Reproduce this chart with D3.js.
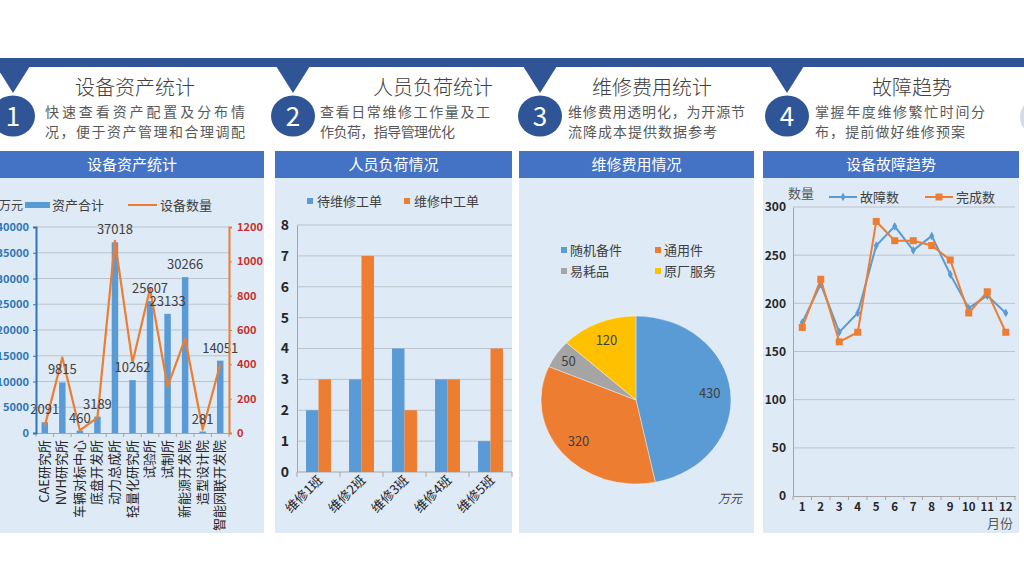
<!DOCTYPE html>
<html><head><meta charset="utf-8">
<script src="https://cdn.jsdelivr.net/npm/d3@7"></script>
<style>
body{margin:0;background:#fff}
svg{display:block}
text{font-family:"Noto Sans CJK SC","Noto Sans",sans-serif}
</style>
</head><body>
<svg id="c" width="1024" height="585"></svg>
<script>
// ---------- data ----------
const stepNumbers = ["1","2","3","4"];
const stepTitles = ["设备资产统计","人员负荷统计","维修费用统计","故障趋势"];
const stepLines1 = ["快速查看资产配置及分布情","查看日常维修工作量及工","维修费用透明化，为开源节","掌握年度维修繁忙时间分"];
const stepLines2 = ["况，便于资产管理和合理调配","作负荷，指导管理优化","流降成本提供数据参考","布，提前做好维修预案"];
const panelTitles = ["设备资产统计","人员负荷情况","维修费用情况","设备故障趋势"];

const assetCats = ["CAE研究所","NVH研究所","车辆对标中心","底盘开发所","动力总成所","轻量化研究所","试验所","试制所","新能源开发院","造型设计院","智能网联开发院"];
const assetValues = [2091,9815,460,3189,37018,10262,25607,23133,30266,281,14051];
const equipCounts = [40,440,15,90,1120,410,840,270,550,20,400];
const assetTicksLeft = [0,5000,10000,15000,20000,25000,30000,35000,40000];
const assetTicksRight = [0,200,400,600,800,1000,1200];

const teams = ["维修1班","维修2班","维修3班","维修4班","维修5班"];
const pendingOrders = [2,3,4,3,1];
const activeOrders = [3,7,2,3,4];
const loadTicks = [0,1,2,3,4,5,6,7,8];

const costCats = ["随机备件","通用件","易耗品","原厂服务"];
const costValues = [430,320,50,120];

const months = [1,2,3,4,5,6,7,8,9,10,11,12];
const faultCounts = [180,220,170,190,260,280,255,270,230,195,208,190];
const doneCounts = [175,225,160,170,285,265,265,260,245,190,212,170];
const faultTicks = [0,50,100,150,200,250,300];

// ---------- styles ----------
const BLUE="#5B9BD5", ORANGE="#ED7D31", GRAY="#A5A5A5", YELLOW="#FFC000";
const DARK="#2F5597", HEAD="#4472C4", BG="#DEEAF6", GRID="#BDC3CA";
const NUMFONT="'Liberation Sans',Arial,sans-serif";

const svg = d3.select("#c");

// ---------- top header ----------
svg.append("rect").attr("x",0).attr("y",58).attr("width",1024).attr("height",9).attr("fill",DARK);
const stepX = [13,293,540,787];
const titleX = [135,433,652,912];
const subX = [45,320,568,815];
const sub1Len = [200,170,177,170];
const sub2Len = [200,135,149,150];
stepX.forEach((cx,i)=>{
  svg.append("path").attr("d",`M${cx-17},66 L${cx+17},66 L${cx},93 Z`).attr("fill",DARK);
  svg.append("ellipse").attr("cx",cx).attr("cy",116).attr("rx",22).attr("ry",20.5).attr("fill",DARK);
  svg.append("text").attr("x",cx).attr("y",125.5).attr("text-anchor","middle").attr("fill","#fff")
    .attr("font-size",26).attr("font-family","'Open Sans',sans-serif").text(stepNumbers[i]);
  svg.append("text").attr("x",titleX[i]).attr("y",95).attr("text-anchor","middle").attr("fill","#404040")
    .attr("font-size",20).attr("font-weight",300).text(stepTitles[i]);
  svg.append("text").attr("x",subX[i]).attr("y",117).attr("fill","#595959").attr("font-size",14)
    .attr("textLength",sub1Len[i]).attr("lengthAdjust","spacing").text(stepLines1[i]);
  svg.append("text").attr("x",subX[i]).attr("y",137).attr("fill","#595959").attr("font-size",14)
    .attr("textLength",sub2Len[i]).attr("lengthAdjust","spacing").text(stepLines2[i]);
});
svg.append("ellipse").attr("cx",1042).attr("cy",117).attr("rx",22).attr("ry",20).attr("fill","#d4dbe6");

// ---------- panels ----------
const panels = [[0,264],[275,512],[519,754],[763,1019]];
panels.forEach(([x0,x1],i)=>{
  svg.append("rect").attr("x",x0).attr("y",151).attr("width",x1-x0).attr("height",382).attr("fill",BG);
  svg.append("rect").attr("x",x0).attr("y",151).attr("width",x1-x0).attr("height",27).attr("fill",HEAD);
  svg.append("text").attr("x",(x0+x1)/2).attr("y",170).attr("text-anchor","middle")
    .attr("fill","#fff").attr("font-size",15).text(panelTitles[i]);
});

function styleAxis(g, color, width){
  g.select(".domain").attr("stroke",color).attr("stroke-width",width||1);
  g.selectAll(".tick line").attr("stroke",color);
}

// ---------- panel 1: assets ----------
{
  const g = svg.append("g");
  const x = d3.scaleBand().domain(assetCats).range([36,229]).paddingInner(0.63).paddingOuter(0.315);
  const yL = d3.scaleLinear().domain([0,40000]).range([433,227]);
  const yR = d3.scaleLinear().domain([0,1200]).range([433,227]);
  g.selectAll(".grid").data(assetTicksLeft.slice(1)).join("line")
    .attr("x1",36).attr("x2",229).attr("y1",d=>yL(d)).attr("y2",d=>yL(d))
    .attr("stroke",GRID).attr("stroke-width",1);
  const xa = g.append("g").attr("transform","translate(0,433)")
    .call(d3.axisBottom(x).tickSize(0).tickFormat(""));
  styleAxis(xa,"#A6A6A6");
  g.selectAll(".xt").data(d3.range(assetCats.length+1)).join("line")
    .attr("x1",d=>36+d*x.step()).attr("x2",d=>36+d*x.step()).attr("y1",433).attr("y2",437).attr("stroke","#A6A6A6");
  g.selectAll(".bar").data(assetValues).join("rect")
    .attr("x",(d,i)=>x(assetCats[i])).attr("width",x.bandwidth())
    .attr("y",d=>yL(d)).attr("height",d=>433-yL(d)).attr("fill",BLUE);
  g.append("path").datum(equipCounts)
    .attr("d",d3.line().x((d,i)=>x(assetCats[i])+x.bandwidth()/2).y(d=>yR(d)))
    .attr("fill","none").attr("stroke",ORANGE).attr("stroke-width",2.2).attr("stroke-linejoin","round");
  g.selectAll(".lbl").data(assetValues).join("text")
    .attr("x",(d,i)=>x(assetCats[i])+x.bandwidth()/2).attr("y",d=>yL(d)-8)
    .attr("text-anchor","middle").attr("font-size",13).attr("fill","#404040")
    .attr("font-family",NUMFONT).text(d=>d);
  const la = g.append("g").attr("transform","translate(36,0)")
    .call(d3.axisLeft(yL).tickValues(assetTicksLeft).tickFormat(d3.format("d")).tickSize(3).tickPadding(4));
  styleAxis(la,"#2E75B6",2);
  la.selectAll("text").attr("fill","#2E75B6").attr("font-size",11).attr("font-weight","bold").attr("font-family",NUMFONT);
  const ra = g.append("g").attr("transform","translate(229,0)")
    .call(d3.axisRight(yR).tickValues(assetTicksRight).tickFormat(d3.format("d")).tickSize(3).tickPadding(5));
  styleAxis(ra,ORANGE,2);
  ra.selectAll("text").attr("fill","#C9302C").attr("font-size",11).attr("font-weight","bold").attr("font-family",NUMFONT);
  g.selectAll(".cat").data(assetCats).join("text")
    .attr("transform",d=>`translate(${x(d)+x.bandwidth()/2+4},440) rotate(-90)`)
    .attr("text-anchor","end").attr("font-size",13).attr("fill","#262626").text(d=>d);
  g.append("text").attr("x",-1).attr("y",210).attr("font-size",12).attr("fill","#404040").text("万元");
  g.append("rect").attr("x",25).attr("y",202).attr("width",25).attr("height",6).attr("fill",BLUE);
  g.append("text").attr("x",52).attr("y",210).attr("font-size",13).attr("fill","#404040").text("资产合计");
  g.append("line").attr("x1",128).attr("x2",157).attr("y1",205).attr("y2",205).attr("stroke",ORANGE).attr("stroke-width",2);
  g.append("text").attr("x",160).attr("y",210).attr("font-size",13).attr("fill","#404040").text("设备数量");
}

// ---------- panel 2: workload ----------
{
  const g = svg.append("g");
  const x0 = d3.scaleBand().domain(teams).range([297,512]).paddingInner(0.42).paddingOuter(0.21);
  const x1 = d3.scaleBand().domain([0,1]).range([0,x0.bandwidth()]);
  const y = d3.scaleLinear().domain([0,8]).range([472,225]);
  g.selectAll(".grid").data(loadTicks.slice(1)).join("line")
    .attr("x1",297).attr("x2",512).attr("y1",d=>y(d)).attr("y2",d=>y(d)).attr("stroke",GRID);
  const ya = g.append("g").attr("transform","translate(297,0)")
    .call(d3.axisLeft(y).tickValues(loadTicks).tickSize(0).tickPadding(8));
  styleAxis(ya,"#A6A6A6");
  ya.selectAll("text").attr("fill","#262626").attr("font-size",14).attr("font-weight","bold").attr("font-family",NUMFONT);
  const step = x0.step();
  g.append("line").attr("x1",297).attr("x2",512).attr("y1",472).attr("y2",472).attr("stroke","#A6A6A6");
  g.selectAll(".xt").data(d3.range(teams.length+1)).join("line")
    .attr("x1",d=>297+d*step).attr("x2",d=>297+d*step).attr("y1",472).attr("y2",477).attr("stroke","#A6A6A6");
  const series = [pendingOrders, activeOrders];
  const cols = [BLUE, ORANGE];
  series.forEach((s,si)=>{
    g.selectAll(".b"+si).data(s).join("rect")
      .attr("x",(d,i)=>x0(teams[i])+x1(si)).attr("width",x1.bandwidth())
      .attr("y",d=>y(d)).attr("height",d=>472-y(d)).attr("fill",cols[si]);
  });
  g.selectAll(".cat").data(teams).join("text")
    .attr("transform",d=>`translate(${x0(d)+x0.bandwidth()/2+5},481) rotate(-45)`)
    .attr("text-anchor","end").attr("font-size",13).attr("fill","#262626").text(d=>d);
  g.append("rect").attr("x",307).attr("y",198).attr("width",6).attr("height",6).attr("fill",BLUE);
  g.append("text").attr("x",317).attr("y",206).attr("font-size",13).attr("fill","#404040").text("待维修工单");
  g.append("rect").attr("x",404).attr("y",198).attr("width",6).attr("height",6).attr("fill",ORANGE);
  g.append("text").attr("x",414).attr("y",206).attr("font-size",13).attr("fill","#404040").text("维修中工单");
}

// ---------- panel 3: costs pie ----------
{
  const cx=636, cy=400, r=95, sy=0.884;
  const colors = [BLUE, ORANGE, GRAY, YELLOW];
  const pie = d3.pie().sort(null)(costValues);
  const arc = d3.arc().innerRadius(0).outerRadius(r);
  const pg = svg.append("g").attr("transform",`translate(${cx},${cy}) scale(1,${sy})`);
  pg.selectAll("path").data(pie).join("path").attr("d",arc).attr("fill",(d,i)=>colors[i])
    .attr("stroke","#fff").attr("stroke-width",0.4);
  const lr = [0.78,0.78,0.85,0.78];
  svg.selectAll(".pl").data(pie).join("text")
    .attr("x",(d,i)=>cx+Math.sin((d.startAngle+d.endAngle)/2)*r*lr[i])
    .attr("y",(d,i)=>cy-Math.cos((d.startAngle+d.endAngle)/2)*r*sy*lr[i]+5)
    .attr("text-anchor","middle").attr("font-size",13).attr("fill","#404040")
    .attr("font-family",NUMFONT).text(d=>d.data);
  const lx=[561,655,561,655], ly=[250,250,271,271];
  costCats.forEach((c,i)=>{
    svg.append("rect").attr("x",lx[i]).attr("y",ly[i]-3).attr("width",6).attr("height",6).attr("fill",colors[i]);
    svg.append("text").attr("x",lx[i]+9).attr("y",ly[i]+5).attr("font-size",13).attr("fill","#404040").text(c);
  });
  svg.append("text").attr("x",730).attr("y",503).attr("text-anchor","middle").attr("font-size",12)
    .attr("fill","#404040").attr("font-style","italic").text("万元");
}

// ---------- panel 4: faults ----------
{
  const g = svg.append("g");
  const x = d3.scaleBand().domain(months).range([793,1015]);
  const y = d3.scaleLinear().domain([0,300]).range([496,207]);
  g.selectAll(".grid").data(faultTicks.slice(1)).join("line")
    .attr("x1",793).attr("x2",1015).attr("y1",d=>y(d)).attr("y2",d=>y(d)).attr("stroke",GRID);
  const ya = g.append("g").attr("transform","translate(793,0)")
    .call(d3.axisLeft(y).tickValues(faultTicks).tickSize(0).tickPadding(7));
  styleAxis(ya,"#A6A6A6");
  ya.selectAll("text").attr("fill","#262626").attr("font-size",12).attr("font-weight","bold").attr("font-family",NUMFONT);
  const xa = g.append("g").attr("transform","translate(0,496)")
    .call(d3.axisBottom(x).tickSize(0).tickPadding(7));
  styleAxis(xa,"#A6A6A6");
  xa.selectAll("text").attr("fill","#262626").attr("font-size",11.5).attr("font-weight","bold").attr("font-family",NUMFONT);
  g.selectAll(".xt").data(d3.range(months.length+1)).join("line")
    .attr("x1",d=>793+d*x.step()).attr("x2",d=>793+d*x.step()).attr("y1",496).attr("y2",500).attr("stroke","#A6A6A6");
  const cxm = m=>x(m)+x.bandwidth()/2;
  const line = d3.line().x((d,i)=>cxm(months[i])).y(d=>y(d));
  g.append("path").datum(faultCounts).attr("d",line).attr("fill","none").attr("stroke",BLUE).attr("stroke-width",2);
  g.selectAll(".dm").data(faultCounts).join("path")
    .attr("d",d3.symbol(d3.symbolDiamond,22)).attr("transform",(d,i)=>`translate(${cxm(months[i])},${y(d)})`).attr("fill",BLUE);
  g.append("path").datum(doneCounts).attr("d",line).attr("fill","none").attr("stroke",ORANGE).attr("stroke-width",2);
  g.selectAll(".sq").data(doneCounts).join("rect")
    .attr("x",(d,i)=>cxm(months[i])-3.5).attr("y",d=>y(d)-3.5).attr("width",7).attr("height",7).attr("fill",ORANGE);
  g.append("text").attr("x",788).attr("y",198).attr("font-size",13).attr("fill","#595959").text("数量");
  g.append("text").attr("x",1013).attr("y",528).attr("text-anchor","end").attr("font-size",13).attr("fill","#595959").text("月份");
  g.append("line").attr("x1",829).attr("x2",857).attr("y1",197).attr("y2",197).attr("stroke",BLUE).attr("stroke-width",2);
  g.append("path").attr("d",d3.symbol(d3.symbolDiamond,22)).attr("transform","translate(843,197)").attr("fill",BLUE);
  g.append("text").attr("x",860).attr("y",202).attr("font-size",13).attr("fill","#404040").text("故障数");
  g.append("line").attr("x1",925).attr("x2",953).attr("y1",197).attr("y2",197).attr("stroke",ORANGE).attr("stroke-width",2);
  g.append("rect").attr("x",935.5).attr("y",193.5).attr("width",7).attr("height",7).attr("fill",ORANGE);
  g.append("text").attr("x",956).attr("y",202).attr("font-size",13).attr("fill","#404040").text("完成数");
}
</script>
</body></html>
